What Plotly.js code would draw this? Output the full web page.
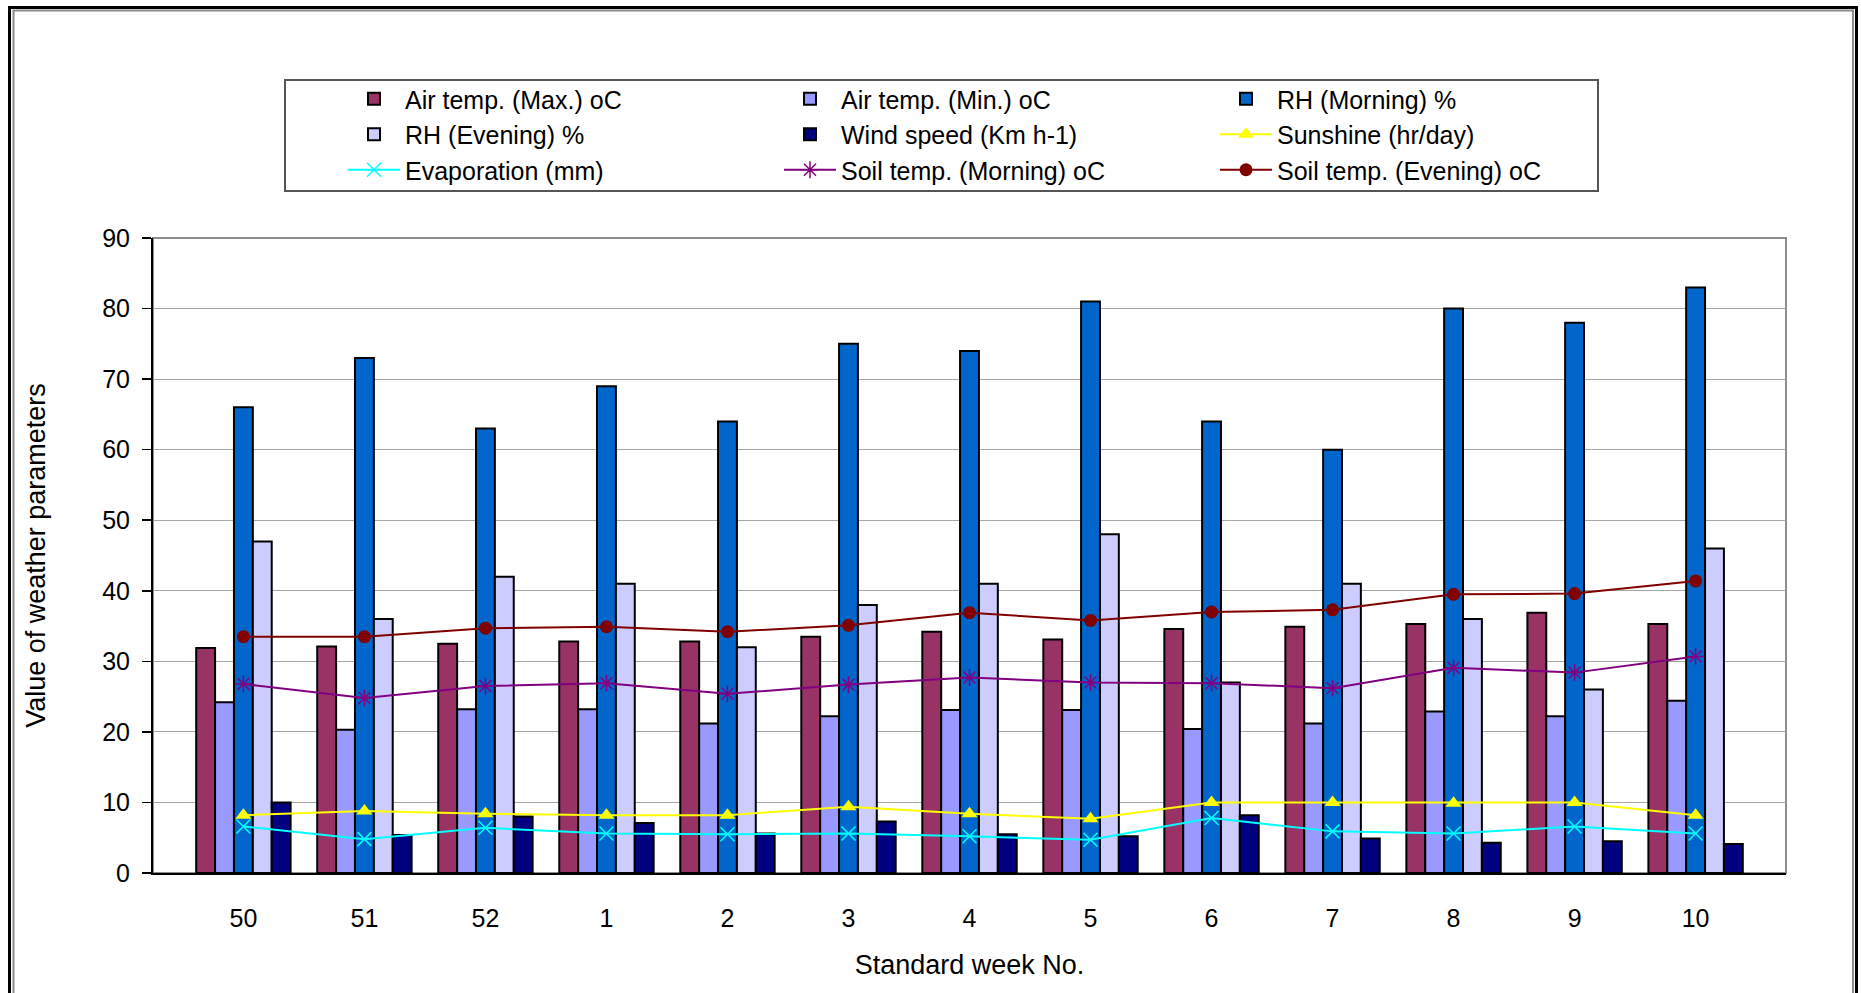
<!DOCTYPE html>
<html>
<head>
<meta charset="utf-8">
<script src="https://cdn.plot.ly/plotly-3.0.1.min.js"></script>
<style>
  html, body { margin: 0; padding: 0; background: #ffffff; }
  #chart { width: 1861px; height: 993px; }
</style>
</head>
<body>
<div id="chart"></div>
<script>
// Standard weeks (Dec–Mar)
const weeks = ['50', '51', '52', '1', '2', '3', '4', '5', '6', '7', '8', '9', '10'];

// Weekly weather parameters
const airTempMax      = [31.9, 32.1, 32.5, 32.8, 32.8, 33.5, 34.2, 33.1, 34.6, 34.9, 35.3, 36.9, 35.3];
const airTempMin      = [24.2, 20.3, 23.2, 23.2, 21.2, 22.2, 23.1, 23.1, 20.4, 21.2, 22.9, 22.2, 24.4];
const rhMorning       = [66, 73, 63, 69, 64, 75, 74, 81, 64, 60, 80, 78, 83];
const rhEvening       = [47, 36, 42, 41, 32, 38, 41, 48, 27, 41, 36, 26, 46];
const windSpeed       = [10.0, 5.4, 8.0, 7.1, 5.6, 7.3, 5.5, 5.2, 8.2, 4.9, 4.3, 4.5, 4.1];
const sunshine        = [8.2, 8.8, 8.4, 8.2, 8.2, 9.4, 8.4, 7.7, 10.0, 10.0, 9.9, 10.0, 8.2];
const evaporation     = [6.6, 4.8, 6.4, 5.6, 5.5, 5.6, 5.2, 4.7, 7.8, 5.9, 5.6, 6.6, 5.6];
const soilTempMorning = [26.8, 24.8, 26.5, 26.9, 25.4, 26.7, 27.7, 27.0, 26.9, 26.2, 29.1, 28.4, 30.7];
const soilTempEvening = [33.5, 33.5, 34.7, 34.9, 34.2, 35.1, 36.9, 35.8, 37.0, 37.3, 39.5, 39.6, 41.4];

const yTicks = [0, 10, 20, 30, 40, 50, 60, 70, 80, 90];

// Page geometry (pixels)
const W = 1861, H = 993;
const PL = 153, PR = 1786, PT = 238, PB = 873;
const px = v => (v - PL) / (PR - PL);   // pixel x -> paper x
const py = v => (PB - v) / (PB - PT);   // pixel y -> paper y

const FONT = '"Liberation Sans", Arial, sans-serif';
const barLine = { color: '#000000', width: 2 };

function barTrace(name, values, color) {
  return { type: 'bar', name: name, x: weeks, y: values,
           marker: { color: color, line: barLine } };
}
function lineTrace(name, values, color, symbol, size, markerLine) {
  return { type: 'scatter', mode: 'lines+markers', name: name, x: weeks, y: values,
           line: { color: color, width: 2 },
           marker: { color: color, symbol: symbol, size: size,
                     line: markerLine || { color: color, width: 0 } } };
}

const traces = [
  barTrace('Air temp. (Max.) oC', airTempMax, '#993366'),
  barTrace('Air temp. (Min.) oC', airTempMin, '#9999FF'),
  barTrace('RH (Morning) %', rhMorning, '#0066CC'),
  barTrace('RH (Evening) %', rhEvening, '#CCCCFF'),
  barTrace('Wind speed (Km h-1)', windSpeed, '#000080'),
  lineTrace('Sunshine (hr/day)', sunshine, '#FFFF00', 'triangle-up', 14),
  lineTrace('Evaporation (mm)', evaporation, '#00FFFF', 'x-thin-open', 14, { color: '#00FFFF', width: 1.5 }),
  lineTrace('Soil temp. (Morning) oC', soilTempMorning, '#800080', 'asterisk-open', 14, { color: '#800080', width: 1.5 }),
  lineTrace('Soil temp. (Evening) oC', soilTempEvening, '#800000', 'circle', 13)
];

const shapes = [
  // plot area frame
  { type: 'rect', xref: 'paper', yref: 'paper', x0: 0, x1: 1, y0: 0, y1: 1,
    line: { color: '#8c8c8c', width: 2 }, layer: 'below' },
  // legend frame
  { type: 'rect', xref: 'paper', yref: 'paper', x0: px(285), x1: px(1598), y0: py(191), y1: py(80),
    line: { color: '#555555', width: 2 } },
  // outer chart border: grey inner line and black outer line
  { type: 'path', xref: 'paper', yref: 'paper',
    path: 'M ' + px(13.5) + ' ' + py(1000) + ' L ' + px(13.5) + ' ' + py(10.5) +
          ' L ' + px(1853) + ' ' + py(10.5) + ' L ' + px(1853) + ' ' + py(1000),
    line: { color: '#8c8c8c', width: 2 } },
  { type: 'path', xref: 'paper', yref: 'paper',
    path: 'M ' + px(9.5) + ' ' + py(1000) + ' L ' + px(9.5) + ' ' + py(7.5) +
          ' L ' + px(1856.5) + ' ' + py(7.5) + ' L ' + px(1856.5) + ' ' + py(1000),
    line: { color: '#000000', width: 3 } }
];

const layout = {
  width: W, height: H,
  margin: { l: PL, r: W - PR, t: PT, b: H - PB, pad: 0 },
  paper_bgcolor: '#ffffff', plot_bgcolor: '#ffffff',
  font: { family: FONT, color: '#000000', size: 24 },
  barmode: 'group', bargap: 0.22, bargroupgap: 0,
  showlegend: true,
  legend: {
    orientation: 'h', xref: 'container', yref: 'container',
    x: 343 / W, y: 1 - 76 / H, xanchor: 'left', yanchor: 'top',
    entrywidth: 369, entrywidthmode: 'pixels', itemwidth: 52,
    bgcolor: 'rgba(0,0,0,0)', borderwidth: 0,
    font: { family: FONT, size: 25, color: '#000000' },
    traceorder: 'normal'
  },
  xaxis: {
    type: 'category', categoryorder: 'array', categoryarray: weeks,
    showgrid: false, zeroline: false,
    showline: true, linecolor: '#000000', linewidth: 2,
    ticks: '', ticklabelstandoff: 22,
    tickfont: { family: FONT, size: 25, color: '#000000' },
    title: { text: 'Standard week No.', font: { family: FONT, size: 27, color: '#000000' }, standoff: 24 }
  },
  yaxis: {
    range: [0, 90], tickvals: yTicks, ticktext: yTicks.map(String),
    showgrid: true, gridcolor: '#a6a6a6', gridwidth: 1, zeroline: false,
    showline: true, linecolor: '#000000', linewidth: 2,
    ticks: 'outside', ticklen: 9, tickwidth: 1.5, tickcolor: '#000000',
    ticklabelstandoff: 7,
    tickfont: { family: FONT, size: 25, color: '#000000' },
    title: { text: 'Value of weather parameters', font: { family: FONT, size: 27, color: '#000000' }, standoff: 49 }
  },
  shapes: shapes
};

Plotly.newPlot('chart', traces, layout, { displayModeBar: false, staticPlot: true });
</script>
</body>
</html>
